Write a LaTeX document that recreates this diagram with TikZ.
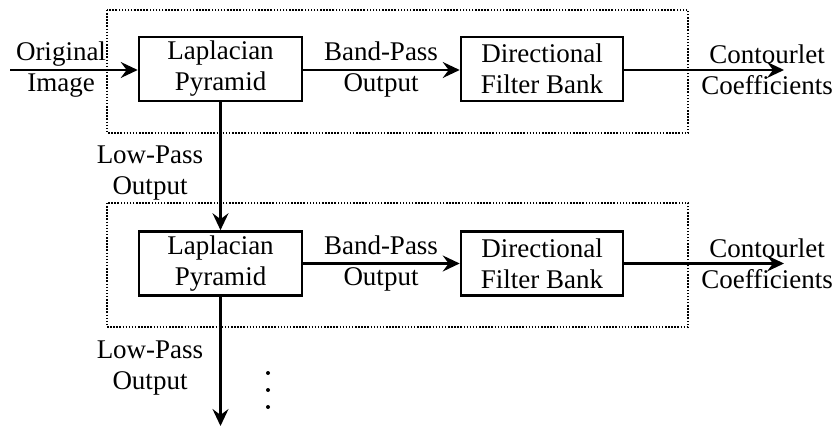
\documentclass[tikz,border=0pt]{standalone}
\usepackage{fontspec}
\setmainfont{Liberation Serif}
\usetikzlibrary{arrows.meta}
\begin{document}
\begin{tikzpicture}[x=1pt,y=-1pt,
  txt/.style={font=\fontsize{27}{31}\selectfont, align=center, inner sep=0pt},
  blockbox/.style={txt, draw, line width=2.6pt, minimum width=163pt, minimum height=64pt},
  groupbox/.style={draw, line width=1.8pt, dash pattern=on 1.5pt off 1.6pt},
  conn/.style={line width=2.2pt, -{Stealth[length=17pt,width=16pt,inset=6pt]}}]
  \useasboundingbox (0,0) rectangle (840,427);
  % grouping frames
  \draw[groupbox] (107,10) rectangle (688,133);
  \draw[groupbox] (107,203) rectangle (688,327);
  % blocks
  \node[blockbox] (lp1) at (220.5,69) {Laplacian\\Pyramid};
  \node[blockbox, minimum width=162pt] (dfb1) at (542,69) {Directional\\Filter Bank};
  \node[blockbox] (lp2) at (220.5,263.5) {Laplacian\\Pyramid};
  \node[blockbox, minimum width=162pt] (dfb2) at (542,263.5) {Directional\\Filter Bank};
  % free ends
  \coordinate (in) at (10,70);
  \coordinate (out1) at (784,70);
  \coordinate (out2) at (784,263.5);
  \coordinate (down) at (220.5,426);
  % connectors
  \draw[conn] (in) -- (lp1.west |- in);
  \draw[conn] (lp1.east |- in) -- (dfb1.west |- in);
  \draw[conn] (dfb1.east |- in) -- (out1);
  \draw[conn] (lp1.south) -- (lp2.north);
  \draw[conn] (lp2.east) -- (dfb2.west);
  \draw[conn] (dfb2.east) -- (out2);
  \draw[conn] (lp2.south) -- (down);
  % labels
  \node[txt] (orig) at (61,70) {Original\\Image};
  \node[txt] (bp1) at (381,70) {Band-Pass\\Output};
  \node[txt] (cc1) at (767,70) {Contourlet\\Coefficients};
  \node[txt] (low1) at (150,173) {Low-Pass\\Output};
  \node[txt] (bp2) at (381,263.5) {Band-Pass\\Output};
  \node[txt] (cc2) at (767,263.5) {Contourlet\\Coefficients};
  \node[txt] (low2) at (150,368) {Low-Pass\\Output};
  % continuation dots
  \fill (268,373) circle (2pt);
  \fill (268,390) circle (2pt);
  \fill (268,407) circle (2pt);
\end{tikzpicture}
\end{document}
